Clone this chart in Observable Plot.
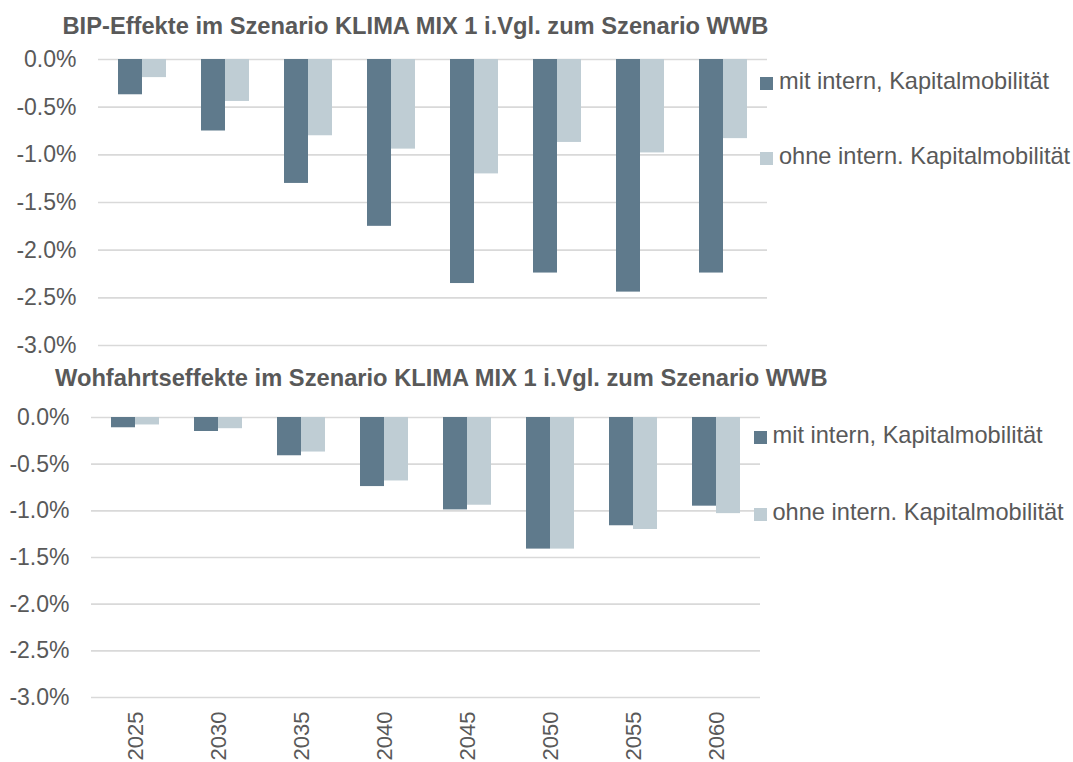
<!DOCTYPE html>
<html><head><meta charset="utf-8">
<script src="https://cdn.jsdelivr.net/npm/d3@7"></script>
<script src="https://cdn.jsdelivr.net/npm/@observablehq/plot@0.6"></script>
<style>
body{margin:0;background:#fff;}
#root{position:relative;width:1073px;height:762px;overflow:hidden;font-family:"Liberation Sans",Arial,sans-serif;color:#595959;}
.abs{position:absolute;white-space:nowrap;line-height:1;}
.title{font-weight:bold;font-size:23.7px;}
.leg{font-size:23.6px;}
.sw{position:absolute;width:13px;height:13px;}
svg{position:absolute;left:0;}
</style></head><body><div id="root"></div>
<script>
const years = ["2025","2030","2035","2040","2045","2050","2055","2060"];
const seriesNames = ["mit intern, Kapitalmobilität", "ohne intern. Kapitalmobilität"];
const colors = ["#5f7a8c", "#bfcdd4"];
const bipMit  = [-0.37, -0.75, -1.30, -1.75, -2.35, -2.24, -2.44, -2.24];
const bipOhne = [-0.19, -0.44, -0.80, -0.94, -1.20, -0.87, -0.98, -0.83];
const wohlMit  = [-0.11, -0.15, -0.41, -0.74, -0.99, -1.41, -1.16, -0.95];
const wohlOhne = [-0.08, -0.12, -0.37, -0.68, -0.94, -1.41, -1.20, -1.03];
const yTicks = [0, -0.5, -1, -1.5, -2, -2.5, -3];
const titles = ["BIP-Effekte im Szenario KLIMA MIX 1 i.Vgl. zum Szenario WWB",
                "Wohfahrtseffekte im Szenario KLIMA MIX 1 i.Vgl. zum Szenario WWB"];

const FONT = '"Liberation Sans", Arial, sans-serif';
const fmt = d => d.toFixed(1) + "%";
const rows = vals => years.map((y, i) => ({year: y, value: vals[i]}));

function panel(mit, ohne, o) {
  const half = 24; // half of the band: each series takes one half
  const marks = [
    Plot.ruleY(yTicks, {stroke: "#d9d9d9", strokeWidth: 1.6}),
    Plot.barY(rows(mit), {x: "year", y: "value", fill: colors[0], insetRight: half}),
    Plot.barY(rows(ohne), {x: "year", y: "value", fill: colors[1], insetLeft: half}),
    Plot.axisY(yTicks, {tickSize: 0, tickPadding: 22, tickFormat: fmt, fill: "#595959", label: null})
  ];
  if (o.xAxis) marks.push(Plot.axisX({tickRotate: -90, tickSize: 0, tickPadding: 14, fontSize: 22, label: null, fill: "#595959"}));
  const svg = Plot.plot({
    width: 1073, height: o.height,
    marginLeft: o.ml, marginRight: o.mr, marginTop: o.mt, marginBottom: o.mb,
    style: {fontFamily: FONT, fontSize: "23px", color: "#595959", background: "transparent", overflow: "visible"},
    x: {domain: years, paddingInner: 0.4265, paddingOuter: 0.2133, axis: null, label: null},
    y: {domain: [-3, 0], axis: null},
    marks
  });
  svg.style.top = o.top + "px";
  return svg;
}
const root = document.getElementById("root");
root.appendChild(panel(bipMit, bipOhne, {top: 0, height: 360, ml: 98, mr: 306, mt: 59, mb: 15, xAxis: false}));
root.appendChild(panel(wohlMit, wohlOhne, {top: 360, height: 402, ml: 91, mr: 313, mt: 57, mb: 65, xAxis: true}));

function addText(cls, txt, left, baseline, fs) {
  const d = document.createElement("div");
  d.className = "abs " + cls;
  d.textContent = txt;
  d.style.left = left + "px";
  d.style.top = (baseline - 0.8465 * fs) + "px";
  root.appendChild(d);
}
addText("title", titles[0], 62.5, 35, 23.7);
addText("title", titles[1], 55, 386.7, 23.7);

function legend(x, baselines) {
  seriesNames.forEach((s, i) => {
    const sw = document.createElement("div");
    sw.className = "sw";
    sw.style.background = colors[i];
    sw.style.left = x + "px";
    sw.style.top = (baselines[i] - 12.8) + "px";
    root.appendChild(sw);
    addText("leg", s, x + 19, baselines[i], 23.6);
  });
}
legend(760, [90, 165]);
legend(753.5, [444, 521]);
</script></body></html>
